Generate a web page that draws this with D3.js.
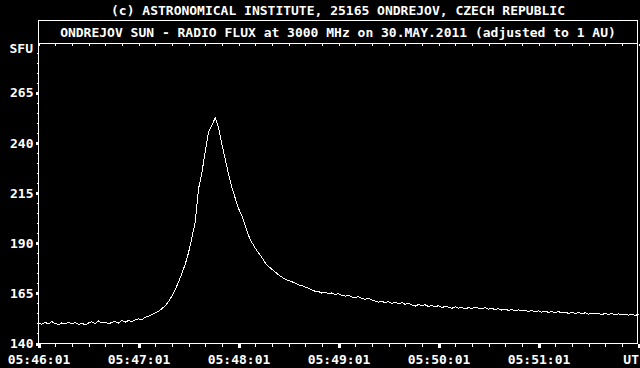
<!DOCTYPE html>
<html>
<head>
<meta charset="utf-8">
<script src="https://cdn.jsdelivr.net/npm/d3@7"></script>
<style>
  html, body { margin: 0; padding: 0; background: #000; }
  svg { display: block; }
  text { font-family: "DejaVu Sans Mono", "Liberation Mono", monospace; font-weight: bold; font-size: 13px; fill: #fff; }
</style>
</head>
<body>
<svg id="chart"></svg>
<script>
// Ondrejov 3000 MHz radio flux, 30 May 2011, one sample every 2 s from 05:46:01 UT
const startTime = '2011-05-30T05:46:01Z';
const endTime = '2011-05-30T05:52:01Z';
const stepSeconds = 2;
const flux = [
  150.2, 149.6, 150.5, 149.8, 150.9, 150.0, 149.4, 150.3, 149.7, 150.6,
  149.9, 150.4, 149.5, 150.1, 149.3, 150.2, 150.8, 150.0, 151.2, 150.3,
  150.7, 149.8, 150.5, 151.0, 150.2, 151.4, 150.6, 151.5, 150.9, 151.8,
  152.3, 151.9, 153.0, 153.6, 154.4, 155.2, 156.1, 157.3, 158.8, 160.9,
  163.6, 166.8, 170.5, 174.9, 179.4, 185.2, 192.6, 200.5, 217.0, 225.0,
  235.5, 245.5, 248.5, 252.5, 247.5, 239.4, 232.0, 224.6, 217.8, 212.5,
  207.3, 203.6, 199.0, 193.8, 190.4, 187.6, 185.1, 182.9, 180.2, 178.4,
  177.0, 175.6, 174.3, 173.1, 172.0, 171.4, 170.8, 170.1, 169.2, 168.9,
  168.1, 167.6, 166.7, 166.0, 165.9, 165.1, 165.6, 164.8, 165.2, 164.3,
  164.9, 164.0, 163.6, 164.1, 163.2, 162.8, 163.4, 162.5, 162.0, 162.6,
  161.7, 161.2, 160.6, 161.1, 160.3, 160.9, 160.0, 160.6, 159.7, 160.4,
  159.5, 160.1, 159.2, 158.6, 159.4, 158.8, 159.3, 158.4, 159.0, 158.2,
  158.9, 157.9, 158.5, 158.1, 157.5, 158.3, 157.6, 158.0, 157.2, 157.9,
  157.4, 158.1, 157.6, 157.2, 157.9, 157.1, 157.6, 156.8, 157.4, 156.6,
  157.2, 156.5, 157.0, 156.3, 156.8, 156.2, 156.7, 155.9, 156.5, 155.8,
  156.3, 155.6, 156.2, 155.5, 156.0, 155.3, 155.9, 155.2, 155.7, 155.0,
  155.6, 154.9, 155.4, 154.8, 155.3, 154.6, 155.2, 154.7, 155.1, 154.4,
  155.0, 154.5, 154.9, 154.3, 154.8, 154.2, 154.7, 154.1, 154.6, 154.0,
  154.5
];
const yMajorTicks = [140, 165, 190, 215, 240, 265];
const xMajorTimes = ['05:46:01', '05:47:01', '05:48:01', '05:49:01', '05:50:01', '05:51:01', '05:52:01'];
const xMajorLabels = ['05:46:01', '05:47:01', '05:48:01', '05:49:01', '05:50:01', '05:51:01', 'UT'];
const creditText = '(c) ASTRONOMICAL INSTITUTE, 25165 ONDREJOV, CZECH REPUBLIC';
const titleText = 'ONDREJOV SUN - RADIO FLUX at 3000 MHz on 30.MAY.2011 (adjusted to 1 AU)';
const unitText = 'SFU';

const W = 640, H = 368;
const plotLeft = 38.5, plotRight = 637.5, boxTop = 20.5, plotTop = 43.5, plotBottom = 343.5;

const t0 = new Date(startTime);
const series = flux.map((v, i) => ({ time: new Date(t0.getTime() + i * stepSeconds * 1000), value: v }));
const parseUT = s => new Date(`2011-05-30T${s}Z`);
const majorTimes = xMajorTimes.map(parseUT);
const minorTimes = d3.range(0, 361, 10).map(s => new Date(t0.getTime() + s * 1000));

const svg = d3.select('#chart').attr('width', W).attr('height', H);

const x = d3.scaleUtc()
  .domain([t0, new Date(endTime)])
  .range([plotLeft, plotLeft + 600]);

const y = d3.scaleLinear()
  .domain([140, 289.5])
  .range([plotBottom, plotTop]);

// frame: title box + plot box
svg.append('rect')
  .attr('x', plotLeft).attr('y', boxTop)
  .attr('width', plotRight - plotLeft).attr('height', plotBottom - boxTop)
  .attr('fill', 'none').attr('stroke', '#fff').attr('stroke-width', 1)
  .attr('shape-rendering', 'crispEdges');

svg.append('line')
  .attr('x1', plotLeft).attr('x2', plotRight)
  .attr('y1', plotTop).attr('y2', plotTop)
  .attr('stroke', '#fff').attr('shape-rendering', 'crispEdges');

// minor ticks, every 10 s on top and bottom, every 5 SFU on the left
svg.append('g').attr('transform', `translate(0,${plotBottom})`)
  .call(d3.axisBottom(x).tickValues(minorTimes).tickSize(3).tickFormat(''));
svg.append('g').attr('transform', `translate(0,${plotTop})`)
  .call(d3.axisBottom(x).tickValues(minorTimes).tickSize(2).tickFormat(''));
svg.append('g').attr('transform', `translate(${plotLeft},0)`)
  .call(d3.axisLeft(y).ticks(30).tickSize(2).tickFormat(''));

// major ticks with labels
const xMajor = d3.axisBottom(x)
  .tickValues(majorTimes)
  .tickSize(4)
  .tickPadding(7)
  .tickFormat((d, i) => xMajorLabels[i]);
const gx = svg.append('g').attr('transform', `translate(0,${plotBottom})`).call(xMajor);
gx.selectAll('.tick line').attr('stroke-width', 3);
gx.selectAll('.tick text').filter((d, i) => xMajorLabels[i] === 'UT').attr('text-anchor', 'end').attr('dx', 0);

const yMajor = d3.axisLeft(y).tickValues(yMajorTicks).tickSize(3).tickPadding(2);
const gy = svg.append('g').attr('transform', `translate(${plotLeft},0)`).call(yMajor);
gy.selectAll('.tick line').attr('stroke-width', 3);

svg.selectAll('.tick text').attr('fill', '#fff').attr('font-size', null).attr('font-family', null);
svg.selectAll('.tick line').attr('stroke', '#fff').attr('shape-rendering', 'crispEdges');
svg.selectAll('.domain').remove();

// texts
svg.append('text').attr('x', 338).attr('y', 15).attr('text-anchor', 'middle').text(creditText);
svg.append('text').attr('x', 338).attr('y', 37).attr('text-anchor', 'middle').text(titleText);
svg.append('text').attr('x', 33).attr('y', 53).attr('text-anchor', 'end').text(unitText);

// flux trace
const line = d3.line()
  .x(d => x(d.time))
  .y(d => y(d.value));

svg.append('path')
  .datum(series)
  .attr('d', line)
  .attr('fill', 'none')
  .attr('stroke', '#fff')
  .attr('stroke-width', 1)
  .attr('shape-rendering', 'crispEdges');
</script>
</body>
</html>
